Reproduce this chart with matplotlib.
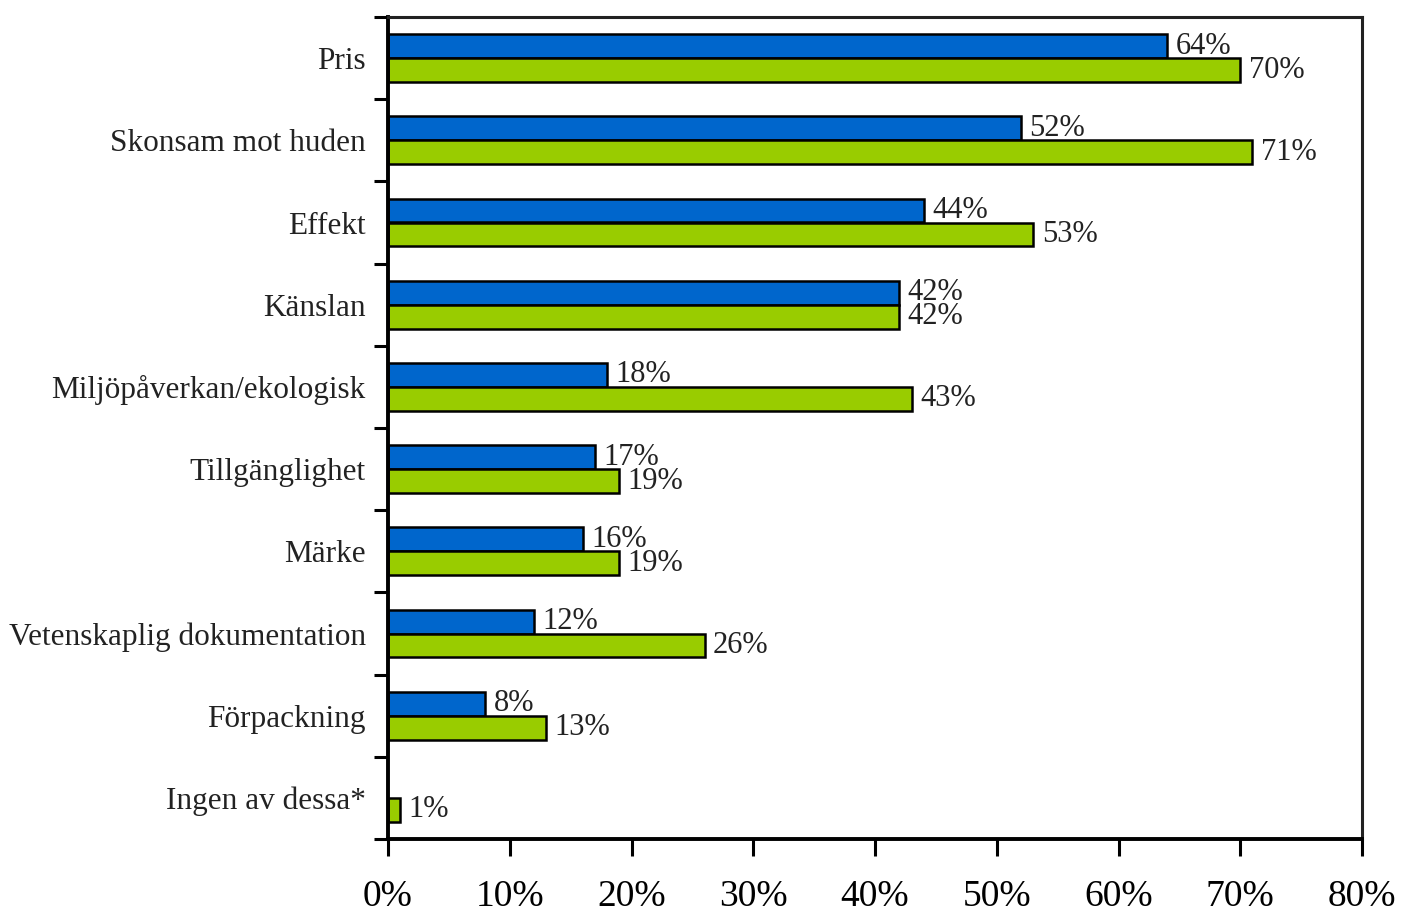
import matplotlib
matplotlib.use("Agg")
import matplotlib.pyplot as plt
import numpy as np

categories = ["Pris", "Skonsam mot huden", "Effekt", "Känslan",
              "Miljöpåverkan/ekologisk", "Tillgänglighet", "Märke",
              "Vetenskaplig dokumentation", "Förpackning", "Ingen av dessa*"]
blue_vals = [64, 52, 44, 42, 18, 17, 16, 12, 8, None]
green_vals = [70, 71, 53, 42, 43, 19, 19, 26, 13, 1]
x_ticks = [0, 10, 20, 30, 40, 50, 60, 70, 80]
x_labels = ["0%", "10%", "20%", "30%", "40%", "50%", "60%", "70%", "80%"]

plt.rcParams['font.family'] = ['Liberation Serif', 'DejaVu Serif']

fig = plt.figure(figsize=(14.02, 9.13), dpi=100)
ax = fig.add_axes([388/1402, 1-839/913, (1362-388)/1402, (839-17)/913])

h = 0.29
centers = np.arange(len(categories)) + 0.5
for i, c in enumerate(centers):
    b = blue_vals[i]
    g = green_vals[i]
    if b is not None:
        ax.barh(c - h/2, b, height=h, color="#0066CC", edgecolor="black", linewidth=1.8)
        ax.text(b + 0.7, c - h/2, f"{b}%", va="center", ha="left", fontsize=22, color="#222222")
    if g is not None:
        ax.barh(c + h/2, g, height=h, color="#99CC00", edgecolor="black", linewidth=1.8)
        ax.text(g + 0.7, c + h/2, f"{g}%", va="center", ha="left", fontsize=22, color="#222222")

ax.set_xlim(0, 80)
ax.set_ylim(len(categories), 0)
ax.set_xticks(x_ticks)
ax.set_xticklabels(x_labels, fontsize=27)
ax.tick_params(axis="x", direction="out", length=12, width=2.2, pad=17, color="black")

ax.set_yticks(np.arange(len(categories) + 1))
ax.set_yticklabels([])
ax.tick_params(axis="y", which="major", direction="out", length=10, width=2.2, color="black")
ax.set_yticks(centers, minor=True)
ax.set_yticklabels(categories, minor=True, fontsize=22.5, color="#222222")
ax.tick_params(axis="y", which="minor", length=0, pad=16)

for s in ["left", "bottom"]:
    ax.spines[s].set_linewidth(2.8)
    ax.spines[s].set_color("black")
for s in ["top", "right"]:
    ax.spines[s].set_linewidth(2.2)
    ax.spines[s].set_color("#222222")

fig.savefig("out.png", dpi=100)
